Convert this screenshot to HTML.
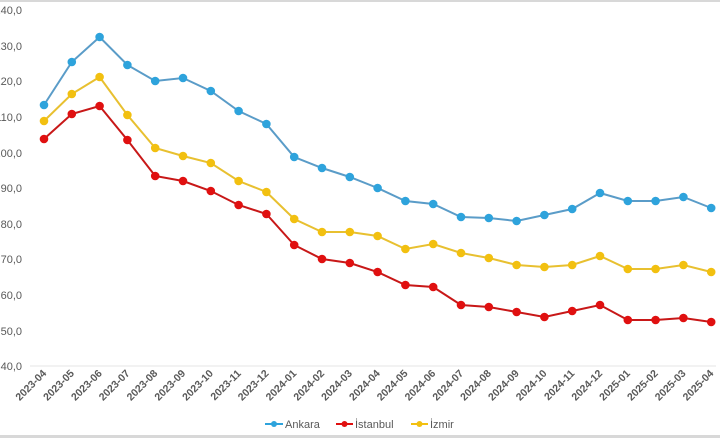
<!DOCTYPE html>
<html><head><meta charset="utf-8"><style>
html,body{margin:0;padding:0;background:#fff;}
svg{display:block;font-family:"Liberation Sans","DejaVu Sans",sans-serif;}
</style></head><body>
<svg width="720" height="438" viewBox="0 0 720 438" xmlns="http://www.w3.org/2000/svg">
<defs>
<marker id="mb" markerWidth="10" markerHeight="10" refX="5" refY="5" markerUnits="userSpaceOnUse"><circle cx="5" cy="5" r="4.3" fill="#2ea3dc"/></marker>
<marker id="mr" markerWidth="10" markerHeight="10" refX="5" refY="5" markerUnits="userSpaceOnUse"><circle cx="5" cy="5" r="4.3" fill="#e01010"/></marker>
<marker id="my" markerWidth="10" markerHeight="10" refX="5" refY="5" markerUnits="userSpaceOnUse"><circle cx="5" cy="5" r="4.3" fill="#f2c010"/></marker>
</defs>
<rect x="0" y="0" width="720" height="2" fill="#d8d8d8"/>
<rect x="0" y="435" width="720" height="3" fill="#d8d8d8"/>
<line x1="30" y1="366" x2="716" y2="366" stroke="#e4e4e4" stroke-width="1"/>
<g font-size="11" fill="#595959" text-anchor="end">
<text x="22" y="14">140,0</text>
<text x="22" y="50">130,0</text>
<text x="22" y="85">120,0</text>
<text x="22" y="121">110,0</text>
<text x="22" y="157">100,0</text>
<text x="22" y="192">90,0</text>
<text x="22" y="228">80,0</text>
<text x="22" y="263">70,0</text>
<text x="22" y="299">60,0</text>
<text x="22" y="335">50,0</text>
<text x="22" y="370">40,0</text>
</g>
<polyline fill="none" stroke="#5a9cc8" stroke-width="2" marker-start="url(#mb)" marker-mid="url(#mb)" marker-end="url(#mb)" points="44,105 71.8,62 99.6,37 127.4,65 155.2,81 183,78 210.8,91 238.6,111 266.4,124 294.2,157 322,168 349.8,177 377.6,188 405.4,201 433.2,204 461,217 488.8,218 516.6,221 544.4,215 572.2,209 600,193 627.8,201 655.6,201 683.4,197 711.2,208"/>
<polyline fill="none" stroke="#e8c030" stroke-width="2" marker-start="url(#my)" marker-mid="url(#my)" marker-end="url(#my)" points="44,121 71.8,94 99.6,77 127.4,115 155.2,148 183,156 210.8,163 238.6,181 266.4,192 294.2,219 322,232 349.8,232 377.6,236 405.4,249 433.2,244 461,253 488.8,258 516.6,265 544.4,267 572.2,265 600,256 627.8,269 655.6,269 683.4,265 711.2,272"/>
<polyline fill="none" stroke="#c81818" stroke-width="2" marker-start="url(#mr)" marker-mid="url(#mr)" marker-end="url(#mr)" points="44,139 71.8,114 99.6,106 127.4,140 155.2,176 183,181 210.8,191 238.6,205 266.4,214 294.2,245 322,259 349.8,263 377.6,272 405.4,285 433.2,287 461,305 488.8,307 516.6,312 544.4,317 572.2,311 600,305 627.8,320 655.6,320 683.4,318 711.2,322"/>
<g font-size="10.5" fill="#595959" text-anchor="end" font-weight="bold">
<text transform="translate(47,374) rotate(-45)">2023-04</text>
<text transform="translate(74.8,374) rotate(-45)">2023-05</text>
<text transform="translate(102.6,374) rotate(-45)">2023-06</text>
<text transform="translate(130.4,374) rotate(-45)">2023-07</text>
<text transform="translate(158.2,374) rotate(-45)">2023-08</text>
<text transform="translate(186,374) rotate(-45)">2023-09</text>
<text transform="translate(213.8,374) rotate(-45)">2023-10</text>
<text transform="translate(241.6,374) rotate(-45)">2023-11</text>
<text transform="translate(269.4,374) rotate(-45)">2023-12</text>
<text transform="translate(297.2,374) rotate(-45)">2024-01</text>
<text transform="translate(325,374) rotate(-45)">2024-02</text>
<text transform="translate(352.8,374) rotate(-45)">2024-03</text>
<text transform="translate(380.6,374) rotate(-45)">2024-04</text>
<text transform="translate(408.4,374) rotate(-45)">2024-05</text>
<text transform="translate(436.2,374) rotate(-45)">2024-06</text>
<text transform="translate(464,374) rotate(-45)">2024-07</text>
<text transform="translate(491.8,374) rotate(-45)">2024-08</text>
<text transform="translate(519.6,374) rotate(-45)">2024-09</text>
<text transform="translate(547.4,374) rotate(-45)">2024-10</text>
<text transform="translate(575.2,374) rotate(-45)">2024-11</text>
<text transform="translate(603,374) rotate(-45)">2024-12</text>
<text transform="translate(630.8,374) rotate(-45)">2025-01</text>
<text transform="translate(658.6,374) rotate(-45)">2025-02</text>
<text transform="translate(686.4,374) rotate(-45)">2025-03</text>
<text transform="translate(714.2,374) rotate(-45)">2025-04</text>
</g>
<g font-size="11" fill="#595959">
<line x1="265" y1="424" x2="283" y2="424" stroke="#2ea3dc" stroke-width="2"/><circle cx="274" cy="424" r="3" fill="#2ea3dc"/>
<text x="285" y="428">Ankara</text>
<line x1="336" y1="424" x2="353" y2="424" stroke="#e01010" stroke-width="2"/><circle cx="344.5" cy="424" r="3" fill="#e01010"/>
<text x="355" y="428">İstanbul</text>
<line x1="411" y1="424" x2="428" y2="424" stroke="#f2c010" stroke-width="2"/><circle cx="419.5" cy="424" r="3" fill="#f2c010"/>
<text x="430" y="428">İzmir</text>
</g>
</svg>
</body></html>
